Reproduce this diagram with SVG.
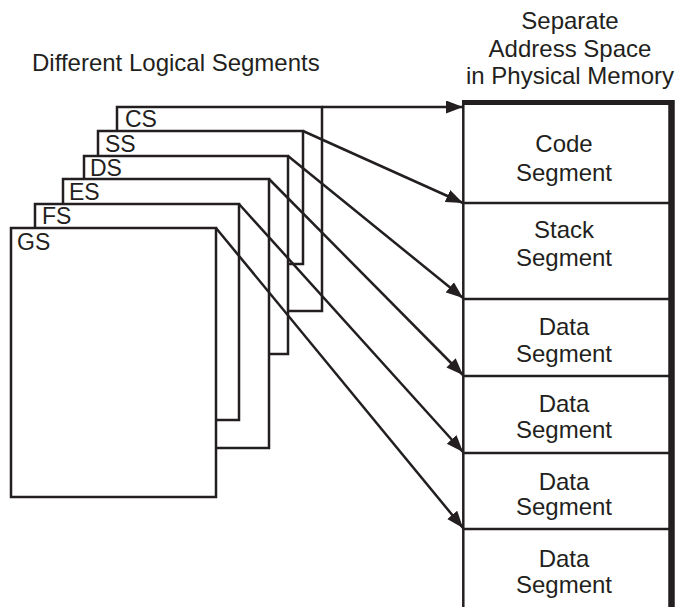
<svg xmlns="http://www.w3.org/2000/svg" width="677" height="607" viewBox="0 0 677 607">
  <defs>
    <style>
      .seg { fill: #ffffff; stroke: #231f20; stroke-width: 2.5; }
      .lbl { font-family: "Liberation Sans", Arial, sans-serif; font-size: 23px; fill: #231f20; }
      .txt { font-family: "Liberation Sans", Arial, sans-serif; font-size: 24px; fill: #231f20; }
      .mid { text-anchor: middle; }
      .conn { stroke: #231f20; stroke-width: 2.5; fill: none; marker-end: url(#arrow); }
      .div { stroke: #231f20; stroke-width: 2.5; }
    </style>
    <marker id="arrow" markerUnits="userSpaceOnUse" markerWidth="18" markerHeight="14" refX="17" refY="6.5" orient="auto">
      <path d="M0,0 L17,6.5 L0,13 z" fill="#231f20"/>
    </marker>
  </defs>
  <rect width="677" height="607" fill="#ffffff"/>

  <text class="txt" x="32" y="71">Different Logical Segments</text>

  <g id="header">
    <text class="txt mid" x="570" y="29">Separate</text>
    <text class="txt mid" x="570" y="57">Address Space</text>
    <text class="txt mid" x="570" y="84">in Physical Memory</text>
  </g>

  <g id="seg-cs"><rect class="seg" x="117" y="107" width="205" height="204"/><text class="lbl" x="125" y="127">CS</text></g>
  <g id="seg-ss"><rect class="seg" x="98" y="131" width="205" height="133"/><text class="lbl" x="105" y="152">SS</text></g>
  <g id="seg-ds"><rect class="seg" x="84" y="156" width="204" height="198"/><text class="lbl" x="90" y="176">DS</text></g>
  <g id="seg-es"><rect class="seg" x="63" y="179" width="206" height="269"/><text class="lbl" x="69" y="200">ES</text></g>
  <g id="seg-fs"><rect class="seg" x="35" y="204" width="204" height="216"/><text class="lbl" x="42" y="224">FS</text></g>
  <g id="seg-gs"><rect class="seg" x="11" y="228" width="205" height="269"/><text class="lbl" x="17" y="250">GS</text></g>

  <g id="memory">
    <rect x="463" y="103" width="208" height="510" fill="#ffffff"/>
    <line x1="463.3" y1="102" x2="463.3" y2="607" stroke="#231f20" stroke-width="2.5"/>
    <line x1="462" y1="102.5" x2="674" y2="102.5" stroke="#231f20" stroke-width="5"/>
    <line x1="671.5" y1="100" x2="671.5" y2="607" stroke="#231f20" stroke-width="6.5"/>
    <line class="div" x1="463" y1="203" x2="670" y2="203"/>
    <line class="div" x1="463" y1="299" x2="670" y2="299"/>
    <line class="div" x1="463" y1="376" x2="670" y2="376"/>
    <line class="div" x1="463" y1="453" x2="670" y2="453"/>
    <line class="div" x1="463" y1="529" x2="670" y2="529"/>
  </g>
  <g id="mem-code"><text class="txt mid" x="564" y="152">Code</text><text class="txt mid" x="564" y="181">Segment</text></g>
  <g id="mem-stack"><text class="txt mid" x="564" y="238">Stack</text><text class="txt mid" x="564" y="266">Segment</text></g>
  <g id="mem-data1"><text class="txt mid" x="564" y="335">Data</text><text class="txt mid" x="564" y="362">Segment</text></g>
  <g id="mem-data2"><text class="txt mid" x="564" y="412">Data</text><text class="txt mid" x="564" y="438">Segment</text></g>
  <g id="mem-data3"><text class="txt mid" x="564" y="490">Data</text><text class="txt mid" x="564" y="515">Segment</text></g>
  <g id="mem-data4"><text class="txt mid" x="564" y="567">Data</text><text class="txt mid" x="564" y="593">Segment</text></g>

  <g id="connectors">
    <line class="conn" x1="322" y1="107" x2="463" y2="107"/>
    <line class="conn" x1="303" y1="131" x2="463" y2="203"/>
    <line class="conn" x1="288" y1="156" x2="463" y2="298"/>
    <line class="conn" x1="269" y1="179" x2="463" y2="375"/>
    <line class="conn" x1="239" y1="204" x2="463" y2="452"/>
    <line class="conn" x1="216" y1="228" x2="463" y2="528"/>
  </g>
</svg>
